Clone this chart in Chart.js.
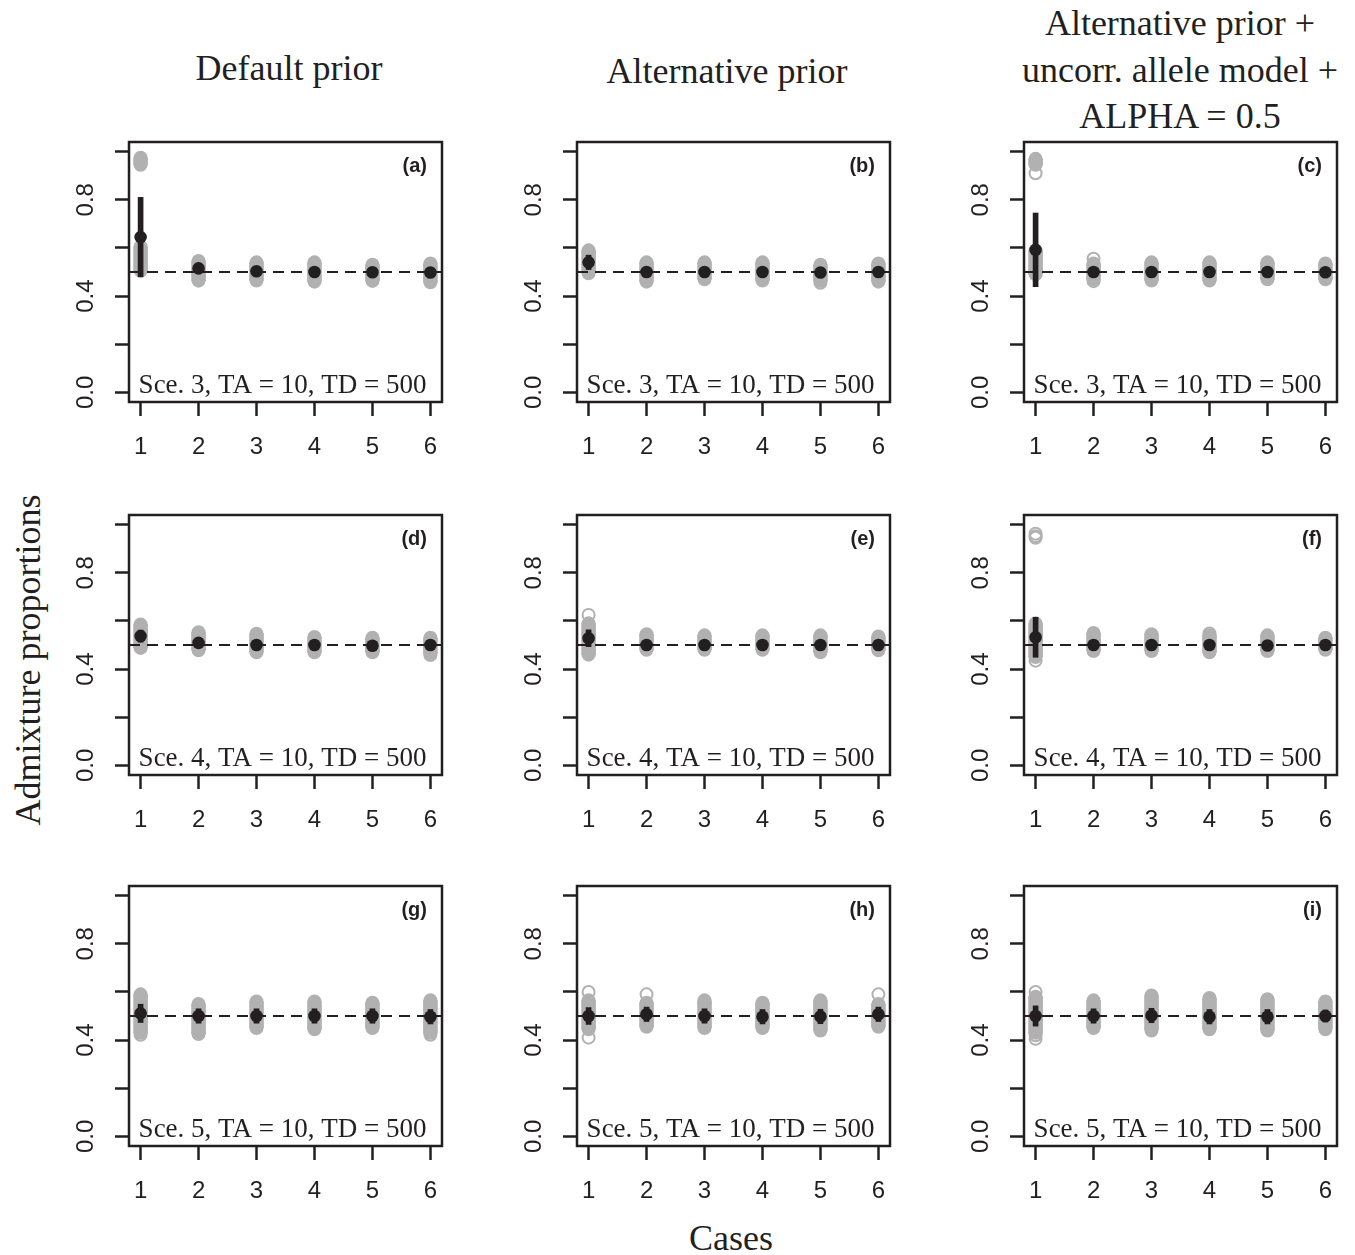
<!DOCTYPE html>
<html><head><meta charset="utf-8">
<script src="https://cdn.jsdelivr.net/npm/chart.js@4.4.0/dist/chart.umd.min.js"></script>
<style>
body{margin:0;background:#fff;width:1355px;height:1255px;position:relative;overflow:hidden;}
canvas{position:absolute;}
.t{position:absolute;font-family:'Liberation Serif','Times New Roman',serif;font-size:36px;color:#231f20;white-space:nowrap;line-height:36px;transform:translateX(-50%);}
.rot{position:absolute;font-family:'Liberation Serif','Times New Roman',serif;font-size:36px;color:#231f20;white-space:nowrap;line-height:36px;transform:translate(-50%,-50%) rotate(-90deg);}
</style></head><body>
<div class="t" style="left:289px;top:50px">Default prior</div>
<div class="t" style="left:727px;top:53px">Alternative prior</div>
<div class="t" style="left:1180px;top:5px">Alternative prior +</div>
<div class="t" style="left:1180px;top:52px">uncorr. allele model +</div>
<div class="t" style="left:1180px;top:98px">ALPHA = 0.5</div>
<div class="rot" style="left:28px;top:660px">Admixture proportions</div>
<div class="t" style="left:731px;top:1220px">Cases</div>
<script>
// ---- shared axis data ----
const cases = [1, 2, 3, 4, 5, 6];
const xRange = [0.8, 6.2];
const yRange = [-0.04, 1.04];
const yTicks = [0, 0.2, 0.4, 0.6, 0.8, 1.0];
const yTickLabels = ['0.0', '', '0.4', '', '0.8', ''];
const refLine = 0.5;
const panelLetters = ['(a)', '(b)', '(c)', '(d)', '(e)', '(f)', '(g)', '(h)', '(i)'];
const rowNotes = ['Sce. 3, TA = 10, TD = 500', 'Sce. 4, TA = 10, TD = 500', 'Sce. 5, TA = 10, TD = 500'];

// ---- panel (a) ----
const meanA = [0.645, 0.515, 0.503, 0.500, 0.499, 0.498];
const sdA   = [0.165, 0.012, 0.010, 0.010, 0.010, 0.010];
const minA  = [0.505, 0.464, 0.465, 0.460, 0.463, 0.457];
const maxA  = [0.605, 0.546, 0.540, 0.540, 0.530, 0.535];
const clusterA = [{x: 1, lo: 0.945, hi: 0.975}];
const outA = [];
// ---- panel (b) ----
const meanB = [0.540, 0.500, 0.500, 0.500, 0.498, 0.500];
const sdB   = [0.030, 0.012, 0.010, 0.010, 0.010, 0.010];
const minB  = [0.495, 0.460, 0.470, 0.465, 0.463, 0.460];
const maxB  = [0.590, 0.540, 0.540, 0.540, 0.530, 0.535];
const clusterB = [];
const outB = [{x: 5, y: 0.455}];
// ---- panel (c) ----
const meanC = [0.592, 0.500, 0.500, 0.500, 0.500, 0.499];
const sdC   = [0.153, 0.012, 0.010, 0.010, 0.010, 0.010];
const minC  = [0.490, 0.470, 0.465, 0.465, 0.470, 0.470];
const maxC  = [0.590, 0.535, 0.540, 0.540, 0.540, 0.535];
const clusterC = [{x: 1, lo: 0.945, hi: 0.970}];
const outC = [{x: 1, y: 0.910}, {x: 2, y: 0.555}, {x: 2, y: 0.462}];
// ---- panel (d) ----
const meanD = [0.537, 0.509, 0.500, 0.500, 0.497, 0.500];
const sdD   = [0.025, 0.012, 0.010, 0.010, 0.010, 0.010];
const minD  = [0.488, 0.478, 0.470, 0.470, 0.470, 0.465];
const maxD  = [0.585, 0.553, 0.547, 0.533, 0.530, 0.530];
const clusterD = [];
const outD = [{x: 6, y: 0.458}];
// ---- panel (e) ----
const meanE = [0.528, 0.500, 0.500, 0.500, 0.500, 0.500];
const sdE   = [0.035, 0.010, 0.010, 0.010, 0.010, 0.010];
const minE  = [0.460, 0.480, 0.480, 0.480, 0.470, 0.478];
const maxE  = [0.590, 0.545, 0.540, 0.540, 0.540, 0.535];
const clusterE = [];
const outE = [{x: 1, y: 0.625}];
// ---- panel (f) ----
const meanF = [0.532, 0.500, 0.500, 0.500, 0.498, 0.500];
const sdF   = [0.083, 0.010, 0.010, 0.010, 0.010, 0.010];
const minF  = [0.450, 0.475, 0.475, 0.470, 0.475, 0.480];
const maxF  = [0.590, 0.550, 0.545, 0.540, 0.540, 0.530];
const clusterF = [];
const outF = [{x: 1, y: 0.435}, {x: 4, y: 0.548}, {x: 1, y: 0.945}, {x: 1, y: 0.952}, {x: 1, y: 0.962}];
// ---- panel (g) ----
const meanG = [0.511, 0.500, 0.500, 0.500, 0.500, 0.497];
const sdG   = [0.038, 0.030, 0.030, 0.030, 0.030, 0.030];
const minG  = [0.430, 0.425, 0.450, 0.445, 0.450, 0.430];
const maxG  = [0.590, 0.550, 0.560, 0.560, 0.555, 0.565];
const clusterG = [];
const outG = [{x: 1, y: 0.422}, {x: 6, y: 0.422}];
// ---- panel (h) ----
const meanH = [0.500, 0.507, 0.500, 0.497, 0.498, 0.507];
const sdH   = [0.035, 0.030, 0.030, 0.030, 0.030, 0.030];
const minH  = [0.445, 0.455, 0.450, 0.450, 0.440, 0.455];
const maxH  = [0.565, 0.555, 0.560, 0.555, 0.565, 0.550];
const clusterH = [];
const outH = [{x: 1, y: 0.600}, {x: 1, y: 0.410}, {x: 2, y: 0.590}, {x: 3, y: 0.565}, {x: 6, y: 0.590}];
// ---- panel (i) ----
const meanI = [0.500, 0.500, 0.502, 0.497, 0.497, 0.500];
const sdI   = [0.042, 0.030, 0.030, 0.030, 0.030, 0.025];
const minI  = [0.430, 0.450, 0.445, 0.445, 0.440, 0.450];
const maxI  = [0.580, 0.565, 0.585, 0.570, 0.570, 0.560];
const clusterI = [];
const outI = [{x: 1, y: 0.600}, {x: 1, y: 0.420}, {x: 1, y: 0.405}, {x: 3, y: 0.440}, {x: 4, y: 0.575}, {x: 6, y: 0.445}];

const panels = [
  {mean: meanA, sd: sdA, min: minA, max: maxA, cluster: clusterA, out: outA},
  {mean: meanB, sd: sdB, min: minB, max: maxB, cluster: clusterB, out: outB},
  {mean: meanC, sd: sdC, min: minC, max: maxC, cluster: clusterC, out: outC},
  {mean: meanD, sd: sdD, min: minD, max: maxD, cluster: clusterD, out: outD},
  {mean: meanE, sd: sdE, min: minE, max: maxE, cluster: clusterE, out: outE},
  {mean: meanF, sd: sdF, min: minF, max: maxF, cluster: clusterF, out: outF},
  {mean: meanG, sd: sdG, min: minG, max: maxG, cluster: clusterG, out: outG},
  {mean: meanH, sd: sdH, min: minH, max: maxH, cluster: clusterH, out: outH},
  {mean: meanI, sd: sdI, min: minI, max: maxI, cluster: clusterI, out: outI}
];

// ---- layout ----
const colLefts = [129, 577, 1024];
const rowTops = [142, 515, 886];
const AREA_W = 313, AREA_H = 260;
const PAD_L = 70, PAD_T = 10, PAD_R = 12, PAD_B = 70;
const DARK = '#231f20';
const GRAY = '#b1b1b1';
const TICK_FONT = {family: "'Liberation Sans', Arial, sans-serif", size: 24};

const decor = {
  id: 'decor',
  afterDatasetsDraw(chart, args, opts) {
    const {ctx, chartArea: a} = chart;
    ctx.save();
    ctx.strokeStyle = DARK;
    ctx.lineWidth = 2.5;
    ctx.strokeRect(a.left, a.top, a.width, a.height);
    ctx.fillStyle = DARK;
    ctx.font = "bold 20px 'Liberation Sans', Arial, sans-serif";
    ctx.textAlign = 'right';
    ctx.textBaseline = 'middle';
    ctx.fillText(opts.letter, a.right - 15, a.top + 24);
    ctx.font = "27px 'Liberation Serif', 'Times New Roman', serif";
    ctx.textAlign = 'center';
    ctx.textBaseline = 'alphabetic';
    ctx.fillText(opts.note, (a.left + a.right) / 2 - 3, a.bottom - 9);
    ctx.restore();
  }
};

function gridOpts() {
  return {display: true, offset: false, drawOnChartArea: false, drawTicks: true, tickLength: 14, tickWidth: 2.5, tickColor: DARK};
}

panels.forEach((p, idx) => {
  const col = idx % 3, row = Math.floor(idx / 3);
  const cv = document.createElement('canvas');
  cv.width = AREA_W + PAD_L + PAD_R;
  cv.height = AREA_H + PAD_T + PAD_B;
  cv.style.left = (colLefts[col] - PAD_L) + 'px';
  cv.style.top = (rowTops[row] - PAD_T) + 'px';
  document.body.appendChild(cv);

  const ranges = cases.map((c, i) => ({x: c, y: [p.min[i], p.max[i]]}))
    .concat(p.cluster.map(k => ({x: k.x, y: [k.lo, k.hi]})));
  const caps = [];
  ranges.forEach(r => { caps.push({x: r.x, y: r.y[0]}); caps.push({x: r.x, y: r.y[1]}); });

  new Chart(cv, {
    type: 'bar',
    data: {
      datasets: [
        {type: 'bar', data: ranges, backgroundColor: GRAY, barThickness: 14, grouped: false, order: 6},
        {type: 'scatter', data: caps, pointRadius: 6, borderWidth: 2, borderColor: GRAY, backgroundColor: GRAY, order: 5},
        {type: 'scatter', data: p.out, pointRadius: 6, borderWidth: 2, borderColor: GRAY, backgroundColor: 'rgba(255,255,255,0)', order: 4},
        {type: 'line', data: [{x: xRange[0], y: refLine}, {x: xRange[1], y: refLine}], borderColor: DARK, borderWidth: 2.2, borderDash: [11, 7], pointRadius: 0, order: 3},
        {type: 'bar', data: cases.map((c, i) => ({x: c, y: [p.mean[i] - p.sd[i], p.mean[i] + p.sd[i]]})), backgroundColor: DARK, barThickness: 5, grouped: false, order: 2},
        {type: 'scatter', data: cases.map((c, i) => ({x: c, y: p.mean[i]})), pointRadius: 6.3, borderWidth: 0, backgroundColor: DARK, order: 1}
      ]
    },
    options: {
      responsive: false,
      animation: false,
      events: [],
      layout: {padding: {left: 0, top: PAD_T, right: PAD_R, bottom: 0}},
      plugins: {legend: {display: false}, tooltip: {enabled: false}, decor: {letter: panelLetters[idx], note: rowNotes[row]}},
      scales: {
        x: {
          type: 'linear', min: xRange[0], max: xRange[1], offset: false,
          afterBuildTicks: s => { s.ticks = cases.map(v => ({value: v})); },
          ticks: {font: TICK_FONT, color: DARK, padding: 17, maxRotation: 0, minRotation: 0, autoSkip: false, callback: v => String(v)},
          grid: gridOpts(),
          border: {display: false},
          afterFit: s => { s.height = PAD_B; s.paddingLeft = 0; s.paddingRight = 0; }
        },
        y: {
          type: 'linear', min: yRange[0], max: yRange[1],
          afterBuildTicks: s => { s.ticks = yTicks.map(v => ({value: v})); },
          ticks: {font: TICK_FONT, color: DARK, padding: 12, minRotation: 90, maxRotation: 90, crossAlign: 'center', autoSkip: false, callback: (v, i) => yTickLabels[i]},
          grid: gridOpts(),
          border: {display: false},
          afterFit: s => { s.width = PAD_L; s.paddingTop = 0; s.paddingBottom = 0; }
        }
      }
    },
    plugins: [decor]
  });
});
</script>
</body></html>
